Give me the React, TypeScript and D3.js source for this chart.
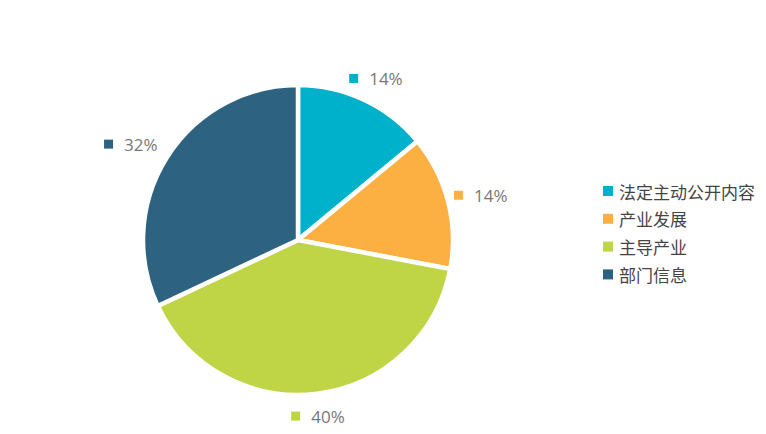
import { useEffect, useRef } from "react";
import * as d3 from "d3";

const categories = ["法定主动公开内容", "产业发展", "主导产业", "部门信息"];
const values = [14, 14, 40, 32];
const colors = ["#00B1CB", "#FDB042", "#BFD546", "#2D6380"];

const WIDTH = 766;
const HEIGHT = 434;
const CX = 298;
const CY = 240;
const R = 155;

const App = () => {
  const svgRef = useRef<SVGSVGElement | null>(null);

  useEffect(() => {
    if (!svgRef.current) return;
    const svg = d3.select(svgRef.current);
    svg.selectAll("*").remove();

    const pie = d3.pie<number>().sort(null).value((d) => d);
    const arcs = pie(values);
    const arc = d3.arc<d3.PieArcDatum<number>>().innerRadius(0).outerRadius(R);
    const total = d3.sum(values);

    const g = svg.append("g").attr("transform", `translate(${CX},${CY})`);
    g.selectAll("path")
      .data(arcs)
      .join("path")
      .attr("d", arc)
      .attr("fill", (_, i) => colors[i])
      .attr("stroke", "#fff")
      .attr("stroke-width", 4.5)
      .attr("stroke-linejoin", "round");

    // data labels: square + percent, placed on an ellipse round the pie
    const labels = g
      .selectAll("g.lbl")
      .data(arcs)
      .join("g")
      .attr("class", "lbl")
      .attr("transform", (d) => {
        const a = (d.startAngle + d.endAngle) / 2;
        return `translate(${193 * Math.sin(a) - 5},${-178 * Math.cos(a)})`;
      });
    labels
      .append("rect")
      .attr("x", -26)
      .attr("y", -5)
      .attr("width", 9)
      .attr("height", 9)
      .attr("fill", (_, i) => colors[i]);
    labels
      .append("text")
      .attr("x", -6)
      .attr("y", 0)
      .attr("dominant-baseline", "central")
      .attr("font-family", "'Open Sans', 'Noto Sans', sans-serif")
      .attr("font-size", 17)
      .attr("fill", "#777")
      .text((d) => `${Math.round((d.data / total) * 100)}%`);

    // legend
    const legend = svg
      .append("g")
      .attr("transform", "translate(603,191)")
      .selectAll("g")
      .data(categories)
      .join("g")
      .attr("transform", (_, i) => `translate(0,${i * 27.8})`);
    legend
      .append("rect")
      .attr("x", 0)
      .attr("y", -5)
      .attr("width", 10)
      .attr("height", 10)
      .attr("fill", (_, i) => colors[i]);
    legend
      .append("text")
      .attr("x", 16)
      .attr("y", 0)
      .attr("dominant-baseline", "central")
      .attr("font-family", "'Noto Sans CJK SC', sans-serif")
      .attr("font-size", 17)
      .attr("fill", "#444")
      .text((d) => d);
  }, []);

  return (
    <svg
      ref={svgRef}
      width={WIDTH}
      height={HEIGHT}
      style={{ position: "absolute", left: 0, top: 0, display: "block", background: "#fff" }}
    />
  );
};

export default App;
